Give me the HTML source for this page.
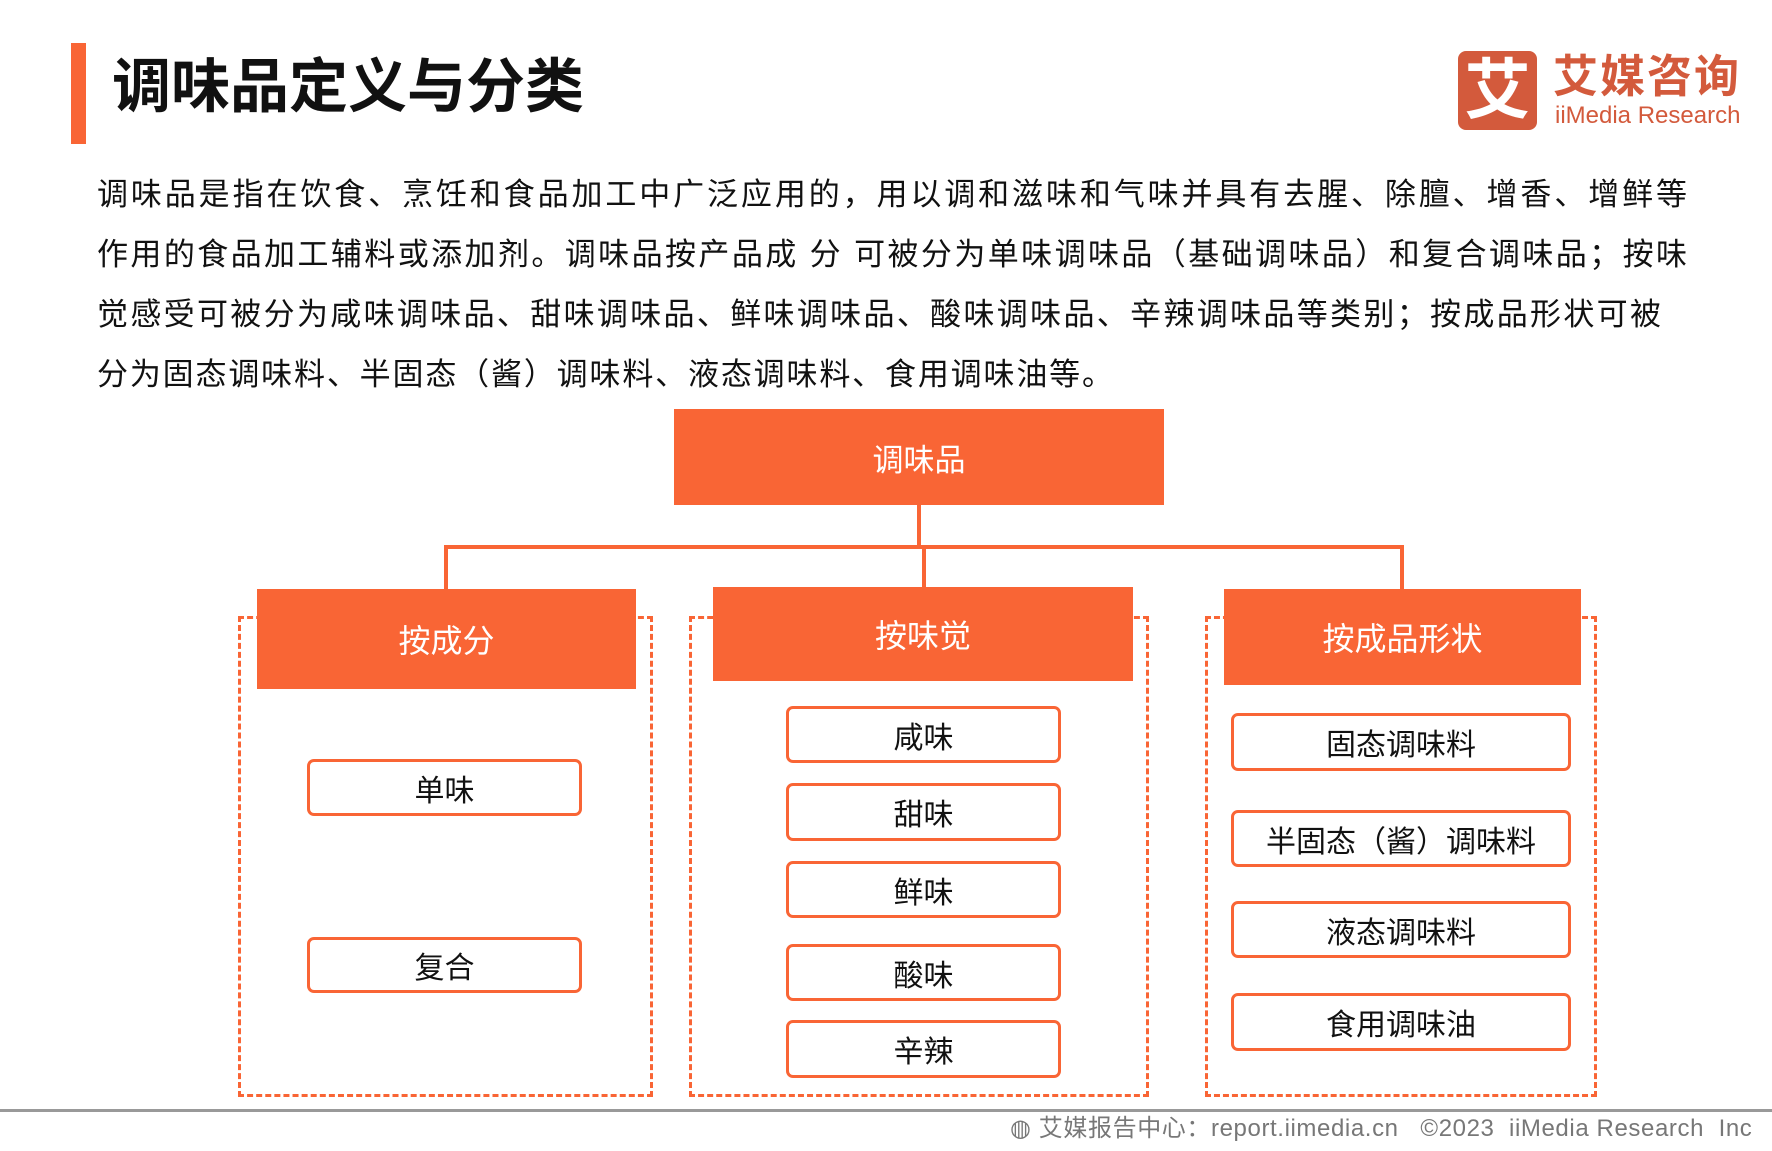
<!DOCTYPE html>
<html><head><meta charset="utf-8"><style>
*{margin:0;padding:0;box-sizing:border-box}
body{width:1772px;height:1151px;position:relative;background:#fff;font-family:"Liberation Sans","Noto Sans CJK SC",sans-serif;overflow:hidden;color:#111}
.a{position:absolute}
.or{background:#F96535;color:#fff;display:flex;align-items:center;justify-content:center}
.sb{position:absolute;border:3.5px solid #F96535;border-radius:7px;background:#fff;display:flex;align-items:center;justify-content:center;font-size:30px;color:#111}
.dash{position:absolute;border:3px dashed #F96535}
.ln{position:absolute;background:#F96535}
.p{position:absolute;left:97px;font-size:31px;line-height:36px;white-space:nowrap;text-align:justify;text-align-last:justify;color:#111}
</style></head><body>
<div class="a" style="left:71px;top:43px;width:15px;height:101px;background:#F96535"></div>
<div class="a" style="left:112px;top:52px;font-size:59px;font-weight:bold;line-height:70px;color:#111">调味品定义与分类</div>
<div class="a" style="left:1458px;top:51px;width:79px;height:79px;background:#D35A3C;border-radius:8px;color:#fff;font-size:66px;font-weight:bold;line-height:79px;text-align:center">艾</div>
<div class="a" style="left:1553px;top:50px;font-size:45px;font-weight:bold;color:#D35A3C;line-height:54px;letter-spacing:2px">艾媒咨询</div>
<div class="a" style="left:1555px;top:102px;font-size:24px;color:#D35A3C;line-height:28px">iiMedia Research</div>

<div class="p" style="top:177px;width:1590px">调味品是指在饮食、烹饪和食品加工中广泛应用的，用以调和滋味和气味并具有去腥、除膻、增香、增鲜等</div>
<div class="p" style="top:237px;width:1590px">作用的食品加工辅料或添加剂。调味品按产品成 分 可被分为单味调味品（基础调味品）和复合调味品；按味</div>
<div class="p" style="top:297px;width:1564px">觉感受可被分为咸味调味品、甜味调味品、鲜味调味品、酸味调味品、辛辣调味品等类别；按成品形状可被</div>
<div class="p" style="top:357px;width:1016px">分为固态调味料、半固态（酱）调味料、液态调味料、食用调味油等。</div>

<div class="a or" style="left:674px;top:409px;width:490px;height:96px;font-size:31px">调味品</div>
<div class="ln" style="left:917px;top:505px;width:4px;height:42px"></div>
<div class="ln" style="left:444px;top:545px;width:960px;height:4px"></div>
<div class="ln" style="left:444px;top:545px;width:4px;height:45px"></div>
<div class="ln" style="left:922px;top:545px;width:4px;height:43px"></div>
<div class="ln" style="left:1400px;top:545px;width:4px;height:45px"></div>

<div class="dash" style="left:238px;top:616px;width:415px;height:481px"></div>
<div class="dash" style="left:689px;top:616px;width:460px;height:481px"></div>
<div class="dash" style="left:1205px;top:616px;width:392px;height:481px"></div>

<div class="a or" style="left:257px;top:589px;width:379px;height:100px;font-size:32px">按成分</div>
<div class="a or" style="left:713px;top:587px;width:420px;height:94px;font-size:32px">按味觉</div>
<div class="a or" style="left:1224px;top:589px;width:357px;height:96px;font-size:32px">按成品形状</div>

<div class="sb" style="left:307px;top:759px;width:275px;height:57px">单味</div>
<div class="sb" style="left:307px;top:937px;width:275px;height:56px">复合</div>

<div class="sb" style="left:786px;top:706px;width:275px;height:57px">咸味</div>
<div class="sb" style="left:786px;top:783px;width:275px;height:58px">甜味</div>
<div class="sb" style="left:786px;top:861px;width:275px;height:57px">鲜味</div>
<div class="sb" style="left:786px;top:944px;width:275px;height:57px">酸味</div>
<div class="sb" style="left:786px;top:1020px;width:275px;height:58px">辛辣</div>

<div class="sb" style="left:1231px;top:713px;width:340px;height:58px">固态调味料</div>
<div class="sb" style="left:1231px;top:810px;width:340px;height:57px">半固态（酱）调味料</div>
<div class="sb" style="left:1231px;top:901px;width:340px;height:57px">液态调味料</div>
<div class="sb" style="left:1231px;top:993px;width:340px;height:58px">食用调味油</div>

<div class="a" style="left:0;top:1109px;width:1772px;height:3px;background:#999"></div>
<div class="a" style="left:1010px;top:1114px;font-size:24px;color:#777;line-height:30px;white-space:nowrap;letter-spacing:0.6px">◍ 艾媒报告中心：report.iimedia.cn &nbsp; ©2023 &nbsp;iiMedia Research &nbsp;Inc</div>
</body></html>
